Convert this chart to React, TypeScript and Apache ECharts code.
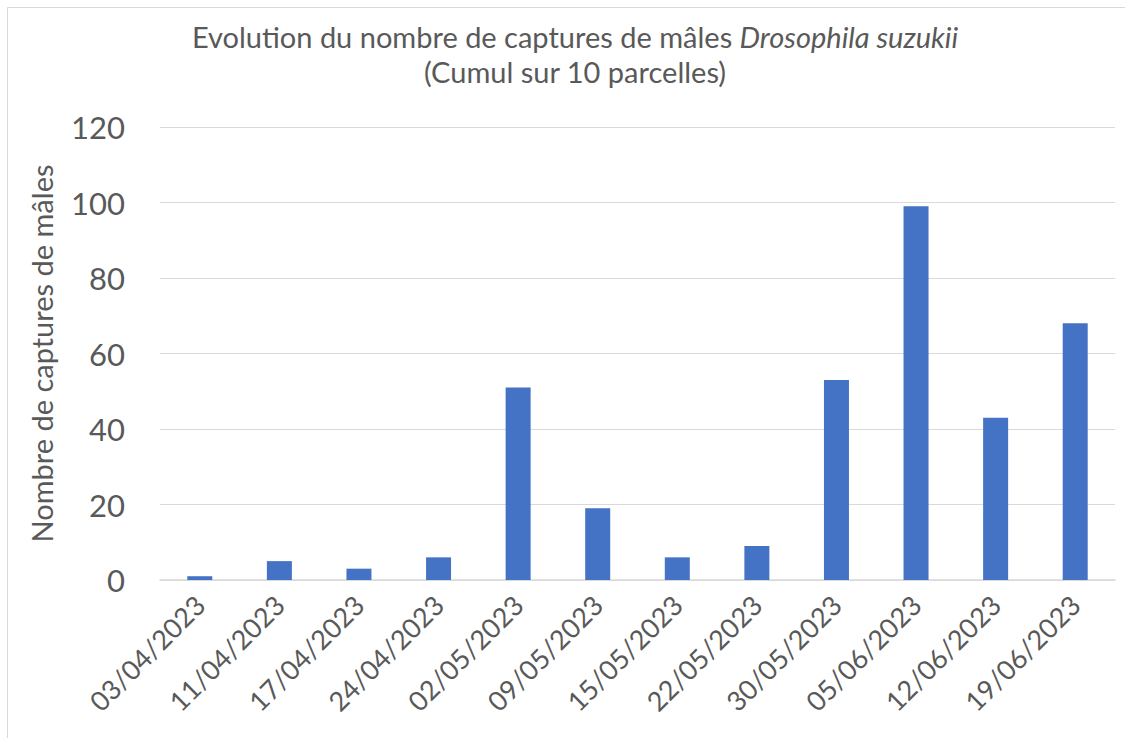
import React, { useEffect, useRef } from "react";
import * as echarts from "echarts";

const categories = [
  "03/04/2023", "11/04/2023", "17/04/2023", "24/04/2023", "02/05/2023", "09/05/2023",
  "15/05/2023", "22/05/2023", "30/05/2023", "05/06/2023", "12/06/2023", "19/06/2023",
];
const captures = [1, 5, 3, 6, 51, 19, 6, 9, 53, 99, 43, 68];
const yTicks = [0, 20, 40, 60, 80, 100, 120];

const FONT = "Lato, 'Open Sans', sans-serif";
const TXT = "#595959";

export default function App() {
  const ref = useRef<HTMLDivElement>(null);
  useEffect(() => {
    const chart = echarts.init(ref.current!, null, { renderer: "svg" });
    chart.setOption({
      animation: false,
      backgroundColor: "#ffffff",
      textStyle: { fontFamily: FONT },
      title: {
        text: "{n|Evolution du nombre de captures de mâles }{i|Drosophila suzukii}\n{n|(Cumul sur 10 parcelles)}",
        left: 570,
        top: 14,
        textAlign: "center",
        textStyle: {
          fontWeight: "normal",
          rich: {
            n: { fontFamily: FONT, fontSize: 29, fontWeight: "normal", color: TXT, lineHeight: 35 },
            i: { fontFamily: FONT, fontSize: 29, fontWeight: "normal", color: TXT, fontStyle: "italic", lineHeight: 35 },
          },
        },
      },
      graphic: [
        {
          type: "rect",
          shape: { x: 7.5, y: 7.5, width: 1130, height: 740 },
          style: { fill: "none", stroke: "#d9d9d9", lineWidth: 1 },
          silent: true,
        },
      ],
      grid: { left: 160, right: 10, top: 127, bottom: 158, containLabel: false },
      xAxis: {
        type: "category",
        data: categories,
        axisLine: { lineStyle: { color: "#d9d9d9", width: 1.5 } },
        axisTick: { show: false },
        axisLabel: {
          rotate: 45,
          color: TXT,
          fontSize: 27,
          fontFamily: FONT,
          margin: 20,
          interval: 0,
        },
      },
      yAxis: {
        type: "value",
        min: yTicks[0],
        max: yTicks[yTicks.length - 1],
        interval: 20,
        name: "Nombre de captures de mâles",
        nameLocation: "middle",
        nameGap: 104,
        nameTextStyle: { color: TXT, fontSize: 29, fontFamily: FONT },
        axisLine: { show: false },
        axisTick: { show: false },
        splitLine: { lineStyle: { color: "#d9d9d9", width: 1 } },
        axisLabel: { color: TXT, fontSize: 31, fontFamily: FONT, margin: 35 },
      },
      series: [
        {
          type: "bar",
          data: captures,
          barWidth: 25,
          itemStyle: { color: "#4472C4" },
        },
      ],
    });
    return () => chart.dispose();
  }, []);
  return (
    <div
      ref={ref}
      style={{ position: "fixed", left: 0, top: 0, width: 1125, height: 738 }}
    />
  );
}
